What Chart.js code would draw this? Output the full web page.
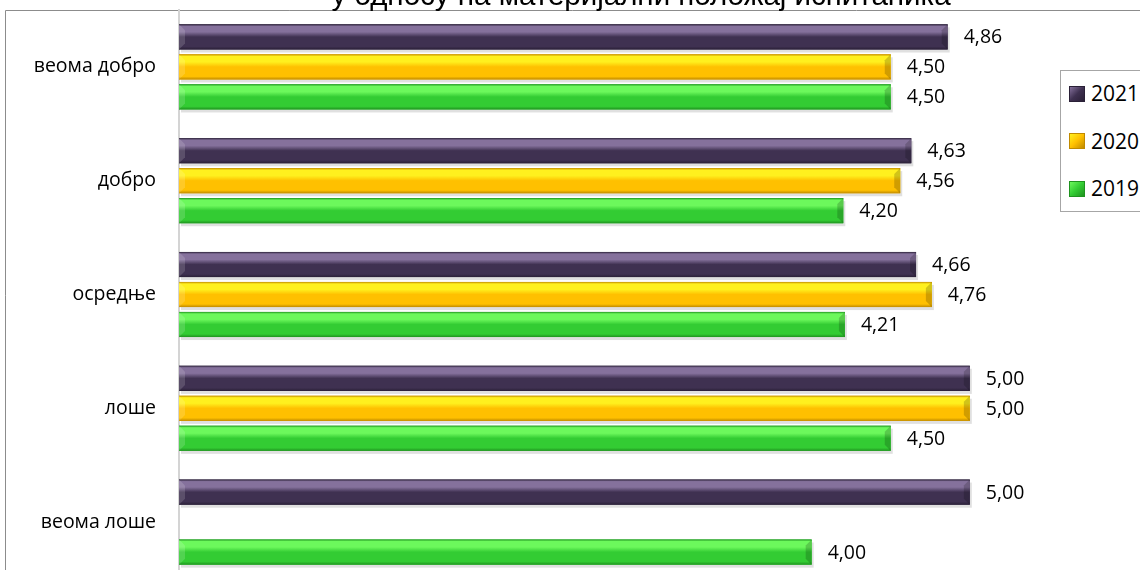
<!DOCTYPE html>
<html>
<head>
<meta charset="utf-8">
<script src="https://cdn.jsdelivr.net/npm/chart.js"></script>
<style>
  html, body { margin: 0; padding: 0; background: #fff; overflow: hidden; }
  #wrap { position: relative; width: 1140px; height: 580px; }
  #legend {
    position: absolute; left: 1060px; top: 70px; width: 100px; height: 142px;
    border: 1px solid #a6a6a6; background: #fff; box-sizing: border-box;
    font-family: "Open Sans", sans-serif; font-size: 21px; color: #000;
  }
  #legend .item { position: absolute; left: 8px; height: 24px; line-height: 24px; white-space: nowrap; }
  #legend .box { display: inline-block; width: 16px; height: 16px; vertical-align: middle; margin-right: 6px; margin-top: -3px; box-sizing: border-box; }
</style>
</head>
<body>
<div id="wrap">
  <canvas id="chart" width="1140" height="580"></canvas>
  <div id="legend"></div>
</div>
<script>
    const titleText = 'у односу на материјални положај испитаника';
    const categories = ['веома добро', 'добро', 'осредње', 'лоше', 'веома лоше'];
    const seriesNames = ['2021', '2020', '2019'];
    const values2021 = [4.86, 4.63, 4.66, 5.00, 5.00];
    const values2020 = [4.50, 4.56, 4.76, 5.00, null];
    const values2019 = [4.50, 4.20, 4.21, 4.50, 4.00];

    const palette = [
        { base: '#3f3151', light: '#85719c', dark: '#2a2037' },
        { base: '#ffc000', light: '#fff01e', dark: '#c08a00' },
        { base: '#33cc33', light: '#6cf85c', dark: '#1f931f' }
    ];

    const fmt = v => v.toFixed(2).replace('.', ',');

    // frame + title (chart is cropped at the top)
    const framePlugin = {
        id: 'frame',
        beforeDraw(chart) {
            const c = chart.ctx;
            c.save();
            c.strokeStyle = '#8c8c8c';
            c.lineWidth = 1;
            c.beginPath();
            c.moveTo(5.5, chart.height);
            c.lineTo(5.5, 10.5);
            c.lineTo(chart.width, 10.5);
            c.stroke();
            c.fillStyle = '#000';
            c.font = '29.5px "Liberation Sans", Arial, sans-serif';
            c.textAlign = 'center';
            c.textBaseline = 'alphabetic';
            c.fillText(titleText, 641, 5);
            c.restore();
        }
    };

    // shaded bars + value labels
    const barLook = {
        id: 'barLook',
        beforeDatasetsDraw(chart) {
            const c = chart.ctx;
            c.save();
            chart.data.datasets.forEach((ds, i) => {
                chart.getDatasetMeta(i).data.forEach((el, j) => {
                    if (ds.data[j] == null) return;
                    const p = el.getProps(['x', 'y', 'base', 'height'], true);
                    c.fillStyle = 'rgba(0,0,0,0.12)';
                    c.fillRect(p.base + 2, p.y - p.height / 2 + 3, p.x - p.base, p.height);
                });
            });
            c.restore();
        },
        afterDatasetsDraw(chart) {
            const c = chart.ctx;
            c.save();
            chart.data.datasets.forEach((ds, i) => {
                const col = palette[i];
                chart.getDatasetMeta(i).data.forEach((el, j) => {
                    const v = ds.data[j];
                    if (v == null) return;
                    const p = el.getProps(['x', 'y', 'base', 'height'], true);
                    const top = p.y - p.height / 2, h = p.height, w = p.x - p.base;
                    const g = c.createLinearGradient(0, top, 0, top + h);
                    g.addColorStop(0, col.dark);
                    g.addColorStop(0.08, col.light);
                    g.addColorStop(0.3, col.light);
                    g.addColorStop(0.5, col.base);
                    g.addColorStop(0.88, col.base);
                    g.addColorStop(1, col.dark);
                    c.fillStyle = g;
                    c.fillRect(p.base, top, w, h);
                    // end bevels
                    const b = Math.min(6, h / 3);
                    c.fillStyle = 'rgba(0,0,0,0.18)';
                    c.beginPath();
                    c.moveTo(p.x, top); c.lineTo(p.x - b, top + b);
                    c.lineTo(p.x - b, top + h - b); c.lineTo(p.x, top + h);
                    c.closePath(); c.fill();
                    c.fillStyle = 'rgba(255,255,255,0.15)';
                    c.beginPath();
                    c.moveTo(p.base, top); c.lineTo(p.base + b, top + b);
                    c.lineTo(p.base + b, top + h - b); c.lineTo(p.base, top + h);
                    c.closePath(); c.fill();
                    // value label
                    c.fillStyle = '#000';
                    c.font = '19.5px "Open Sans", sans-serif';
                    c.textAlign = 'left';
                    c.textBaseline = 'middle';
                    c.fillText(fmt(v), p.x + 16, p.y + 1);
                });
            });
            c.restore();
        }
    };

    const allValues = [values2021, values2020, values2019];

    const chart = new Chart(document.getElementById('chart').getContext('2d'), {
        type: 'bar',
        data: {
            labels: categories,
            datasets: seriesNames.map((name, i) => ({
                label: name,
                data: allValues[i],
                backgroundColor: palette[i].base,
                borderWidth: 0,
                categoryPercentage: 0.79,
                barPercentage: 0.84
            }))
        },
        options: {
            indexAxis: 'y',
            responsive: false,
            animation: false,
            layout: { padding: { top: 10, right: 12, bottom: 1, left: 0 } },
            plugins: {
                legend: { display: false },
                title: { display: false },
                tooltip: { enabled: false }
            },
            scales: {
                x: { display: false, min: 0, max: 6 },
                y: {
                    grid: { display: false, drawTicks: false },
                    border: { display: true, color: '#d4d4d4', width: 2 },
                    ticks: {
                        color: '#000',
                        padding: 23,
                        font: { family: '"Open Sans", sans-serif', size: 19.5 }
                    },
                    afterFit(scale) {
                        scale.width = 179;
                        scale.paddingTop = 0;
                        scale.paddingBottom = 0;
                    }
                }
            }
        },
        plugins: [framePlugin, barLook]
    });

    // legend (partly cut off at the right, as in the source)
    const lg = document.getElementById('legend');
    seriesNames.forEach((name, i) => {
        const it = document.createElement('div');
        it.className = 'item';
        it.style.top = (10 + i * 47.5) + 'px';
        const col = palette[i];
        it.innerHTML = '<span class="box" style="background:linear-gradient(135deg,' + col.light + ',' + col.base + ' 50%,' + col.dark + ');border:1px solid ' + col.dark + '"></span>' + name;
        lg.appendChild(it);
    });
</script>
</body>
</html>
